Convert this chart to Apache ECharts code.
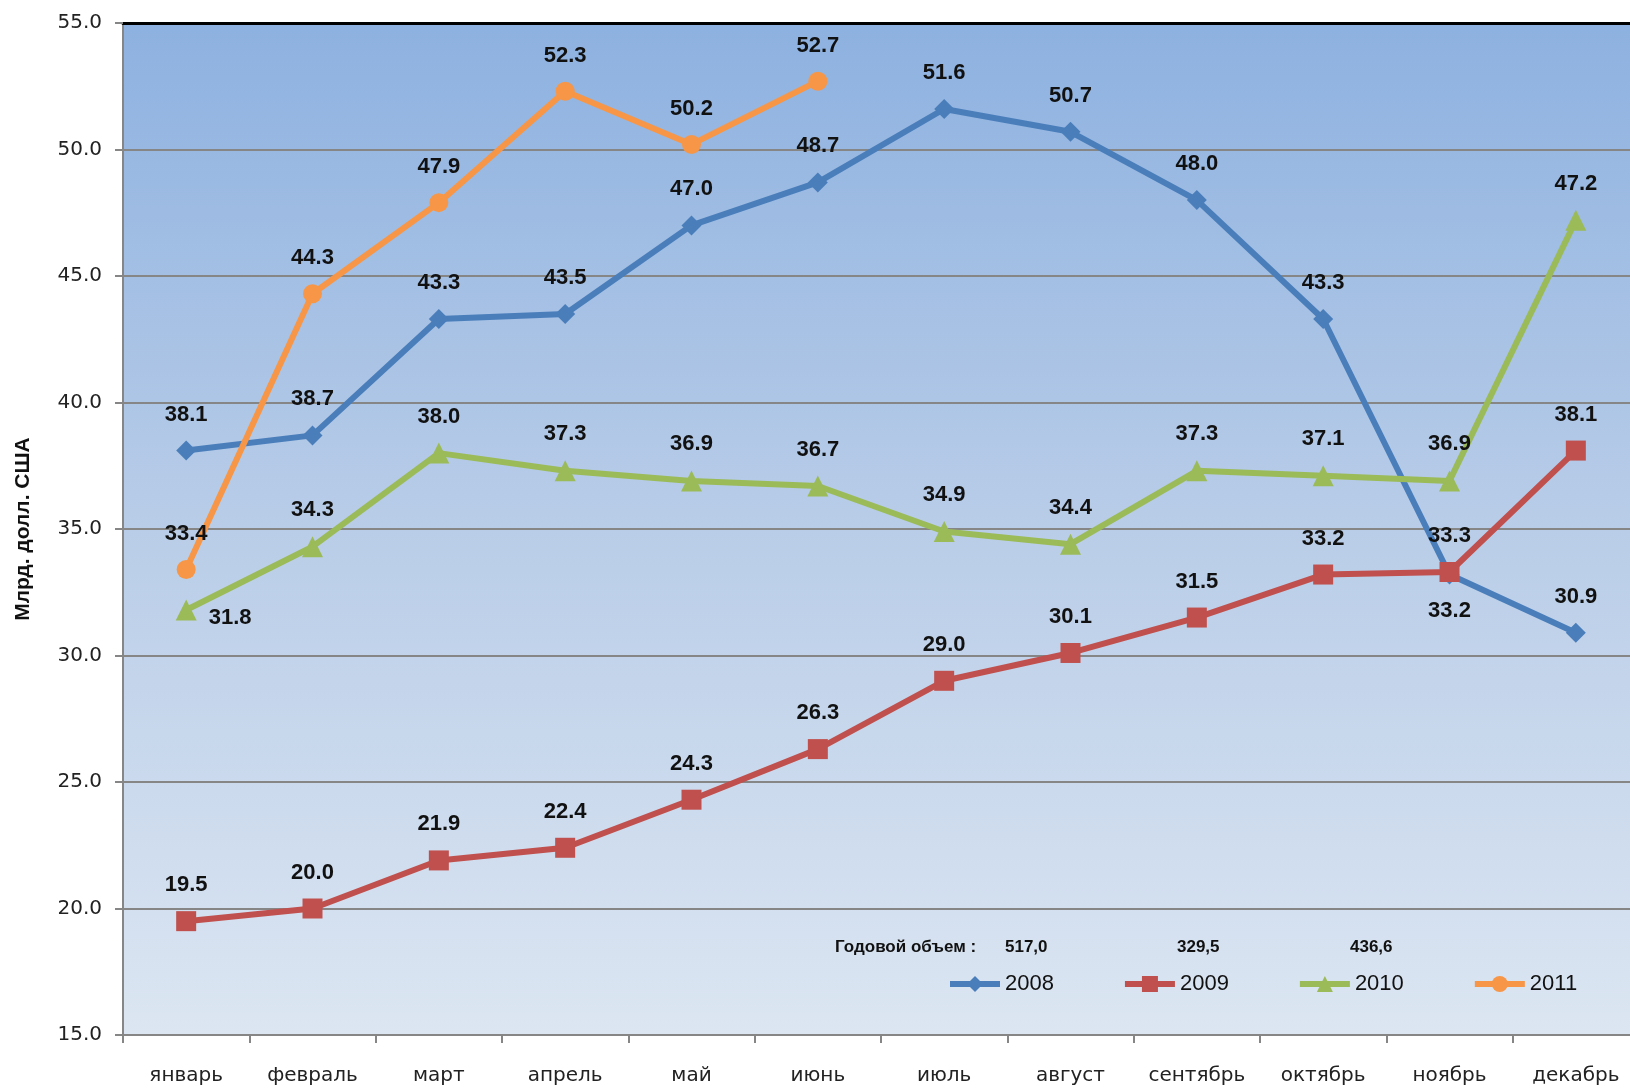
<!DOCTYPE html>
<html>
<head>
<meta charset="utf-8">
<script src="https://cdn.jsdelivr.net/npm/echarts@6/dist/echarts.min.js"></script>
<style>
  html, body { margin: 0; padding: 0; background: #ffffff; }
  #chart { width: 1630px; height: 1090px; }
</style>
</head>
<body>
<div id="chart"></div>
<script>
// месяцы
const months = ["январь", "февраль", "март", "апрель", "май", "июнь",
  "июль", "август", "сентябрь", "октябрь", "ноябрь", "декабрь"];

const years = ["2008", "2009", "2010", "2011"];
const values2008 = [38.1, 38.7, 43.3, 43.5, 47.0, 48.7, 51.6, 50.7, 48.0, 43.3, 33.2, 30.9];
const values2009 = [19.5, 20.0, 21.9, 22.4, 24.3, 26.3, 29.0, 30.1, 31.5, 33.2, 33.3, 38.1];
const values2010 = [31.8, 34.3, 38.0, 37.3, 36.9, 36.7, 34.9, 34.4, 37.3, 37.1, 36.9, 47.2];
const values2011 = [33.4, 44.3, 47.9, 52.3, 50.2, 52.7];

// годовой объем
const annualTotals = ["517,0", "329,5", "436,6"];

const yMin = 15, yMax = 55, yStep = 5;

const colors = ["#4a7ebb", "#c0504d", "#9bbb59", "#f79646"];
const symbols = ["diamond", "rect", "triangle", "circle"];
const symbolSizes = [20, 20, 21, 19];

// подписи не сверху: [серия, индекс, позиция]
const labelOverrides = [
  [0, 10, { position: "bottom" }],
  [2, 0, { position: "right", distance: 12, offset: [0, 8] }]
];

const font = "'Liberation Sans', Arial, sans-serif";
const axisFont = "'DejaVu Sans', Verdana, sans-serif";
const chart = echarts.init(document.getElementById("chart"));

function makeSeries(k, values) {
  const data = values.map((v, i) => {
    const o = labelOverrides.find(x => x[0] === k && x[1] === i);
    return o ? { value: v, label: o[2] } : v;
  });
  return {
    name: years[k],
    type: "line",
    data: data,
    symbol: symbols[k],
    symbolSize: symbolSizes[k],
    lineStyle: { width: 6, color: colors[k] },
    itemStyle: { color: colors[k] },
    z: 3 + k,
    animation: false,
    label: {
      show: true,
      position: "top",
      distance: 15,
      fontFamily: font,
      fontSize: 22,
      fontWeight: "bold",
      color: "#111",
      formatter: p => p.value.toFixed(1)
    }
  };
}

const totalsX = [1005, 1177, 1350];
const graphics = [{
  type: "text", left: 835, top: 939,
  style: { text: "Годовой объем :", font: "bold 17px " + font, fill: "#111" }
}].concat(annualTotals.map((t, i) => ({
  type: "text", left: totalsX[i], top: 939,
  style: { text: t, font: "bold 17px " + font, fill: "#111" }
})));

chart.setOption({
  animation: false,
  grid: {
    left: 123, top: 23, right: -9, bottom: 55,
    outerBoundsMode: "none",
    show: true,
    borderWidth: 0,
    backgroundColor: {
      type: "linear", x: 0, y: 0, x2: 0, y2: 1,
      colorStops: [
        { offset: 0, color: "#8db1e0" },
        { offset: 0.5, color: "#b9cde8" },
        { offset: 1, color: "#dce6f2" }
      ]
    }
  },
  legend: {
    data: years,
    left: 942, top: 968,
    itemWidth: 50, itemHeight: 20,
    itemGap: 68,
    lineStyle: { width: 6 },
    textStyle: { fontFamily: font, fontSize: 22, color: "#111" }
  },
  graphic: graphics,
  xAxis: [{
    type: "category",
    data: months,
    boundaryGap: true,
    axisLine: { lineStyle: { color: "#868686", width: 2 } },
    axisTick: { show: true, interval: 0, length: 8, lineStyle: { color: "#868686", width: 2 } },
    axisLabel: { interval: 0, margin: 31, fontFamily: axisFont, fontSize: 20, color: "#222" },
    splitLine: { show: false }
  }, {
    type: "category",
    data: months,
    position: "top",
    axisLine: { lineStyle: { color: "#000", width: 3 } },
    axisTick: { show: false },
    axisLabel: { show: false }
  }],
  yAxis: {
    type: "value",
    min: yMin, max: yMax, interval: yStep,
    name: "Млрд. долл. США",
    nameLocation: "middle",
    nameGap: 89,
    nameTextStyle: { fontFamily: font, fontSize: 21, fontWeight: "bold", color: "#111" },
    axisLine: { show: true, lineStyle: { color: "#868686", width: 2 } },
    axisTick: { show: true, length: 8, lineStyle: { color: "#868686", width: 2 } },
    axisLabel: {
      margin: 21, fontFamily: axisFont, fontSize: 20, color: "#222",
      formatter: v => v.toFixed(1)
    },
    splitLine: { lineStyle: { color: "#868686", width: 2 } }
  },
  series: [
    makeSeries(0, values2008),
    makeSeries(1, values2009),
    makeSeries(2, values2010),
    makeSeries(3, values2011)
  ]
});
</script>
</body>
</html>
